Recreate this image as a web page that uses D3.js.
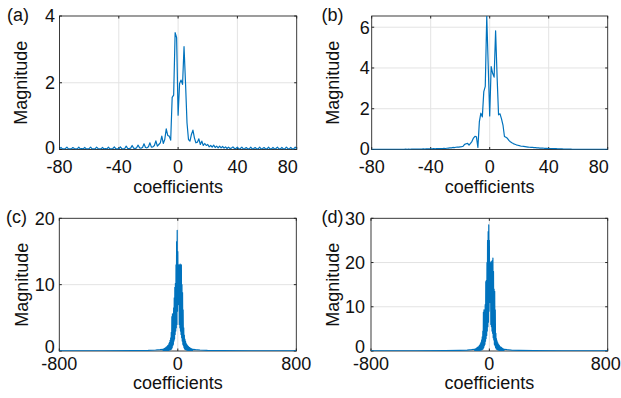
<!DOCTYPE html>
<html>
<head>
<meta charset="utf-8">
<script src="https://cdn.jsdelivr.net/npm/d3@7"></script>
<style>
  html, body { margin: 0; padding: 0; background: #fff; }
  svg { display: block; font-family: "Liberation Sans", Arial, Helvetica, sans-serif; }
</style>
</head>
<body>
<div id="chart"></div>
<script>
// coefficient grids
const coefAB = d3.range(-80, 81);
const coefCD = [-800, -500, -300, -200, -150, -120].concat(d3.range(-100, 101, 2), [120, 150, 200, 300, 500, 800]);

// (a) magnitude, -80..80
const magA = [
  0.02,0.06,0.02,0.02, 0.03,0.07,0.02,0.02, 0.02,0.06,0.03,0.02, 0.02,0.07,0.02,0.03, 0.02,0.06,0.02,0.02,
  0.03,0.07,0.02,0.02, 0.02,0.07,0.03,0.02, 0.02,0.06,0.02,0.03, 0.02,0.07,0.02,0.02, 0.03,0.08,0.02,0.02,
  0.02,0.08,0.03,0.02, 0.03,0.10,0.03,0.03, 0.04,0.12,0.04,0.03, 0.05,0.13,0.05,0.04, 0.06,0.17,0.06,0.05,
  0.08,0.20,0.07,0.08, 0.12,0.26,0.10,0.15, 0.20,0.40,0.18,0.30, 0.62,0.42,0.40,0.28,
  1.56,1.63,3.50,3.35,1.03,1.98,2.08,1.95,3.08,2.00,0.80,0.30,0.25,0.45,0.58,
  0.35,0.20,0.22,0.32,0.15,0.25,0.12,0.18,0.12,0.15, 0.08,0.12,0.07,0.13,0.06,0.10,0.05,0.10,0.05,0.09,
  0.04,0.08,0.03,0.07, 0.03,0.04,0.08,0.03, 0.03,0.07,0.02,0.03, 0.07,0.02,0.03,0.06, 0.02,0.02,0.07,0.02,
  0.03,0.06,0.02,0.02, 0.07,0.02,0.03,0.06, 0.02,0.02,0.07,0.02, 0.02,0.06,0.02,0.03, 0.07,0.02,0.02,0.06,
  0.02,0.02,0.07,0.03, 0.02,0.06,0.02,0.02, 0.07,0.02
];

// (b) magnitude, -80..80
const magB = [
  0.01,0.01,0.01,0.01,0.01,0.01,0.01,0.01,0.01,0.01, 0.01,0.01,0.01,0.01,0.01,0.01,0.01,0.01,0.01,0.01,
  0.01,0.01,0.01,0.02,0.01,0.02,0.01,0.02,0.02,0.02, 0.02,0.02,0.02,0.02,0.02,0.03,0.02,0.03,0.03,0.03,
  0.03,0.03,0.04,0.03,0.04,0.04,0.05,0.04,0.05,0.06, 0.05,0.06,0.07,0.08,0.08,0.10,0.09,0.11,0.12,0.12,
  0.13,0.14,0.16,0.25,0.28,0.30,0.22,0.30,0.40,0.56,0.65,0.62,0.10,
  1.37,1.78,1.60,2.84,3.10,6.55,4.10,1.65,4.07,3.74,3.55,5.82,3.60,1.70,1.75,1.50,1.20,0.64,
  0.60,0.55,0.45,0.38,0.33,0.29,0.26,0.23,0.21,0.19, 0.17,0.16,0.15,0.14,0.13,0.12,0.11,0.10,0.10,0.09,
  0.09,0.08,0.08,0.07,0.07,0.07,0.06,0.06,0.06,0.05,
  0.05,0.05,0.04,0.04,0.04,0.03,0.03,0.03,0.03,0.02, 0.02,0.02,0.02,0.02,0.02,0.01,0.01,0.01,0.01,0.01,
  0.01,0.01,0.01,0.01,0.01,0.01,0.01,0.01,0.01,0.01, 0.01,0.01,0.01,0.01,0.01,0.01,0.01,0.01,0.01,0.01
];

// (c) magnitude on coefCD
const magC = [
  0.005,0.02,0.05,0.10,0.15,0.20,
  0.25,0.02,0.30,0.03,0.35,0.03,0.40,0.04,0.45,0.05, 0.55,0.05,0.60,0.06,0.70,0.08,0.80,0.10,0.90,0.10,
  1.10,0.12,1.30,0.15,1.60,0.20,2.00,0.25,2.80,0.30, 5.20,0.50,5.60,0.80,4.20,1.00,6.50,1.50,8.00,1.80,
  9.60,2.50,10.2,3.00,13.0,3.50,16.5,4.00,18.2,6.00, 15.0,7.00,12.0,7.50,13.0,4.00,12.8,3.50,13.1,3.00,
  12.8,2.50,13.0,2.00,10.0,1.50,8.80,1.00,6.20,0.80, 3.50,0.50,2.40,0.30,1.80,0.25,1.50,0.20,1.20,0.15,
  1.00,0.12,0.85,0.10,0.75,0.08,0.65,0.06,0.55,0.05, 0.50,0.05,0.42,0.04,0.38,0.03,0.33,0.03,0.30,0.02,0.25,
  0.20,0.15,0.10,0.05,0.02,0.005
];

// (d) magnitude on coefCD
const magD = [
  0.01,0.03,0.08,0.15,0.22,0.30,
  0.40,0.03,0.45,0.04,0.50,0.05,0.60,0.06,0.70,0.07, 0.80,0.08,0.90,0.10,1.00,0.12,1.20,0.15,1.40,0.15,
  1.70,0.20,2.00,0.25,2.50,0.30,3.20,0.40,4.50,0.50, 8.80,0.80,9.30,1.20,6.50,1.50,10.5,2.20,15.7,2.80,
  16.0,3.50,20.0,4.50,25.0,5.50,27.0,6.50,28.5,9.00, 25.0,11.0,19.0,11.5,20.0,6.00,20.2,5.50,19.5,4.50,
  20.5,4.00,21.0,3.00,18.0,2.50,14.0,1.50,13.5,1.20, 9.30,0.80,4.00,0.50,2.80,0.40,2.30,0.30,1.90,0.25,
  1.60,0.20,1.40,0.15,1.20,0.12,1.00,0.10,0.90,0.08, 0.80,0.07,0.70,0.06,0.60,0.05,0.50,0.04,0.45,0.03,0.40,
  0.30,0.22,0.15,0.08,0.03,0.01
];

const ticksAB = [-80, -40, 0, 40, 80];
const ticksCD = [-800, 0, 800];

const W = 621, H = 398;
const svg = d3.select('#chart').append('svg').attr('width', W).attr('height', H);
const ink = '#262626';
const blue = '#0072BD';
const gridC = '#e3e3e3';

// lastShift/lastAnchor: the reference nudges its right-most x label inward
// zeroLift: the reference raises its y "0" label a little
const panels = [
  { id: 'a', l: 59.5, t: 16, w: 237.2, h: 133.5, xs: coefAB, ys: magA, xd: [-80, 80], yd: [0, 4], xt: ticksAB, yt: [0, 2, 4], gap: 4.5, lab: 7, ylabX: 27, xtY: 173, xlY: 193, lastAnchor: 'end', lastShift: 1, zeroLift: 1.5 },
  { id: 'b', l: 371.7, t: 16, w: 236, h: 133.5, xs: coefAB, ys: magB, xd: [-80, 80], yd: [0, 6.55], xt: ticksAB, yt: [0, 2, 4, 6], gap: 2, lab: 321.5, ylabX: 339, xtY: 173, xlY: 193, lastAnchor: 'end', lastShift: 1, zeroLift: 0.5 },
  { id: 'c', l: 59.3, t: 218.3, w: 237, h: 132.7, xs: coefCD, ys: magC, xd: [-800, 800], yd: [0, 20], xt: ticksCD, yt: [0, 10, 20], gap: 4.5, lab: 6, ylabX: 27.5, xtY: 369.5, xlY: 389, lastAnchor: 'middle', lastShift: 0, zeroLift: 4.5 },
  { id: 'd', l: 371, t: 218.3, w: 236.7, h: 132.7, xs: coefCD, ys: magD, xd: [-800, 800], yd: [0, 30], xt: ticksCD, yt: [0, 10, 20, 30], gap: 6, lab: 321.5, ylabX: 339, xtY: 369.5, xlY: 389, lastAnchor: 'middle', lastShift: -2, zeroLift: 4.5 }
];

panels.forEach(p => {
  const x = d3.scaleLinear().domain(p.xd).range([p.l, p.l + p.w]);
  const y = d3.scaleLinear().domain(p.yd).range([p.t + p.h, p.t]);
  const g = svg.append('g');

  // grid
  g.append('g').selectAll('line').data(p.xt.slice(1, -1)).enter().append('line')
    .attr('x1', d => x(d)).attr('x2', d => x(d)).attr('y1', p.t).attr('y2', p.t + p.h)
    .attr('stroke', gridC).attr('stroke-width', 1);
  g.append('g').selectAll('line').data(p.yt.filter(v => v > p.yd[0] && v < p.yd[1])).enter().append('line')
    .attr('y1', d => y(d)).attr('y2', d => y(d)).attr('x1', p.l).attr('x2', p.l + p.w)
    .attr('stroke', gridC).attr('stroke-width', 1);

  // box + ticks
  g.append('rect').attr('x', p.l).attr('y', p.t).attr('width', p.w).attr('height', p.h)
    .attr('fill', 'none').attr('stroke', ink).attr('stroke-width', 0.9);
  const tl = 2.5;
  p.xt.forEach(v => {
    g.append('line').attr('x1', x(v)).attr('x2', x(v)).attr('y1', p.t + p.h).attr('y2', p.t + p.h - tl).attr('stroke', ink);
    g.append('line').attr('x1', x(v)).attr('x2', x(v)).attr('y1', p.t).attr('y2', p.t + tl).attr('stroke', ink);
  });
  p.yt.forEach(v => {
    g.append('line').attr('y1', y(v)).attr('y2', y(v)).attr('x1', p.l).attr('x2', p.l + tl).attr('stroke', ink);
    g.append('line').attr('y1', y(v)).attr('y2', y(v)).attr('x1', p.l + p.w).attr('x2', p.l + p.w - tl).attr('stroke', ink);
  });

  // data
  const clipId = 'clip-' + p.id;
  svg.append('clipPath').attr('id', clipId).append('rect')
    .attr('x', p.l).attr('y', p.t).attr('width', p.w).attr('height', p.h);
  const line = d3.line().x((d, i) => x(p.xs[i])).y(d => y(d));
  g.append('path').datum(p.ys).attr('d', line).attr('clip-path', `url(#${clipId})`)
    .attr('fill', 'none').attr('stroke', blue).attr('stroke-width', 1.2).attr('stroke-linejoin', 'round');

  // tick labels
  const last = p.xt.length - 1;
  g.append('g').selectAll('text').data(p.xt).enter().append('text')
    .attr('x', (d, i) => i === last ? x(d) + p.lastShift : x(d))
    .attr('y', p.xtY)
    .attr('text-anchor', (d, i) => i === last ? p.lastAnchor : 'middle')
    .attr('font-size', 18).attr('fill', '#111').text(d => d);
  g.append('g').selectAll('text').data(p.yt).enter().append('text')
    .attr('x', p.l - p.gap).attr('y', d => d === 0 ? y(d) - p.zeroLift : y(d)).attr('dy', '0.36em')
    .attr('text-anchor', 'end').attr('font-size', 18).attr('fill', '#111').text(d => d);

  // axis titles
  g.append('text').attr('x', p.l + p.w / 2).attr('y', p.xlY).attr('text-anchor', 'middle')
    .attr('font-size', 18).attr('fill', '#111').text('coefficients');
  g.append('text').attr('transform', `translate(${p.ylabX},${p.t + p.h / 2}) rotate(-90)`)
    .attr('text-anchor', 'middle').attr('font-size', 18).attr('fill', '#111').text('Magnitude');
  g.append('text').attr('x', p.lab).attr('y', p.id === 'a' || p.id === 'b' ? 20.5 : 223)
    .attr('font-size', 18).attr('fill', '#111').text(`(${p.id})`);
});
</script>
</body>
</html>
